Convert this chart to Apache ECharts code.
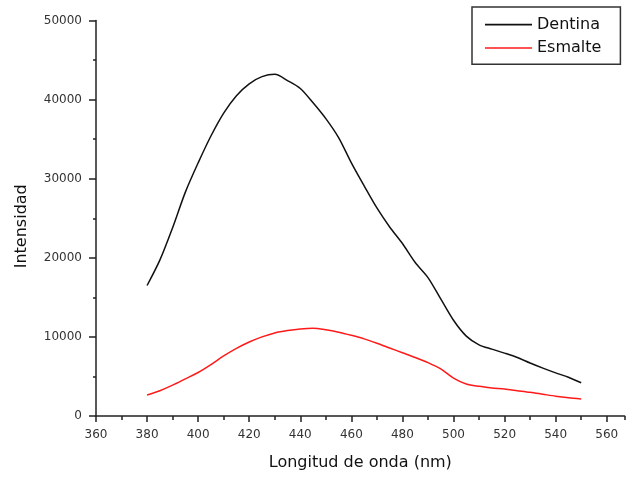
<!DOCTYPE html>
<html>
<head>
<meta charset="utf-8">
<script src="https://cdn.jsdelivr.net/npm/echarts@6/dist/echarts.min.js"></script>
<style>
html,body{margin:0;padding:0;background:#fff;}
#chart{width:626px;height:477px;}
</style>
</head>
<body>
<div id="chart"></div>
<script>
var wavelengths = [380,385,390,395,400,405,410,415,420,425,430,435,440,445,450,455,460,465,470,475,480,485,490,495,500,505,510,515,520,525,530,535,540,545,550];
var dentina = [16500,19700,23800,28300,32000,35400,38300,40500,42000,42900,43200,42400,41400,39600,37600,35200,32000,29100,26300,23900,21800,19400,17500,14800,12100,10100,9000,8450,7950,7400,6700,6050,5450,4900,4200];
var esmalte = [2650,3200,3900,4700,5500,6500,7600,8550,9350,10000,10500,10800,11000,11080,10900,10600,10200,9750,9200,8600,8000,7400,6750,5950,4800,4050,3750,3550,3400,3200,3000,2750,2500,2300,2150];
var seriesNames = ['Dentina','Esmalte'];
var xTitle = 'Longitud de onda (nm)';
var yTitle = 'Intensidad';

function pairs(xs, ys){ return xs.map(function(x,i){ return [x, ys[i]]; }); }

var chart = echarts.init(document.getElementById('chart'), null, {renderer:'canvas'});
var font = 'DejaVu Sans';
chart.setOption({
  backgroundColor:'#ffffff',
  animation:false,
  grid:{left:96, right:1.4, top:20.5, bottom:61},
  legend:{
    orient:'vertical', left:472, top:7,
    data:seriesNames,
    icon:'rect',
    itemWidth:47, itemHeight:1.6, itemGap:3.4,
    padding:[7.6,19,6.3,13],
    borderColor:'#333', borderWidth:1.5,
    textStyle:{fontFamily:font, fontSize:16, color:'#111', lineHeight:20}
  },
  xAxis:[{
    type:'value', min:360, max:567, interval:20,
    name:xTitle, nameLocation:'middle', nameGap:39,
    nameTextStyle:{fontFamily:font, fontSize:16, color:'#111'},
    axisLine:{show:true, lineStyle:{color:'#222', width:1.5}},
    axisTick:{show:true, length:6, lineStyle:{color:'#222', width:1.5}},
    axisLabel:{fontFamily:font, fontSize:12, color:'#333', margin:13, showMaxLabel:false},
    splitLine:{show:false}
  },{
    type:'value', min:360, max:567, interval:10, position:'bottom',
    axisLine:{show:false},
    axisTick:{show:true, length:4, lineStyle:{color:'#222', width:1.5}},
    axisLabel:{show:false},
    splitLine:{show:false}
  }],
  yAxis:{
    type:'value', min:0, max:50000, interval:10000,
    name:yTitle, nameLocation:'middle', nameGap:66,
    nameTextStyle:{fontFamily:font, fontSize:16, color:'#111', padding:[0,16,0,0]},
    axisLine:{show:true, lineStyle:{color:'#222', width:1.5}},
    axisTick:{show:true, length:7, lineStyle:{color:'#222', width:1.5}},
    minorTick:{show:true, splitNumber:2, length:3, lineStyle:{color:'#222', width:1.5}},
    axisLabel:{fontFamily:font, fontSize:12, color:'#333', margin:14, formatter:function(v){return String(v);}},
    splitLine:{show:false}
  },
  series:[{
    name:seriesNames[0], type:'line', xAxisIndex:0, data:pairs(wavelengths, dentina),
    symbol:'none', smooth:0.3, lineStyle:{color:'#111', width:1.5}, itemStyle:{color:'#111'}
  },{
    name:seriesNames[1], type:'line', xAxisIndex:0, data:pairs(wavelengths, esmalte),
    symbol:'none', smooth:0.3, lineStyle:{color:'#ff1a1a', width:1.5}, itemStyle:{color:'#ff1a1a'}
  }]
});
</script>
</body>
</html>
